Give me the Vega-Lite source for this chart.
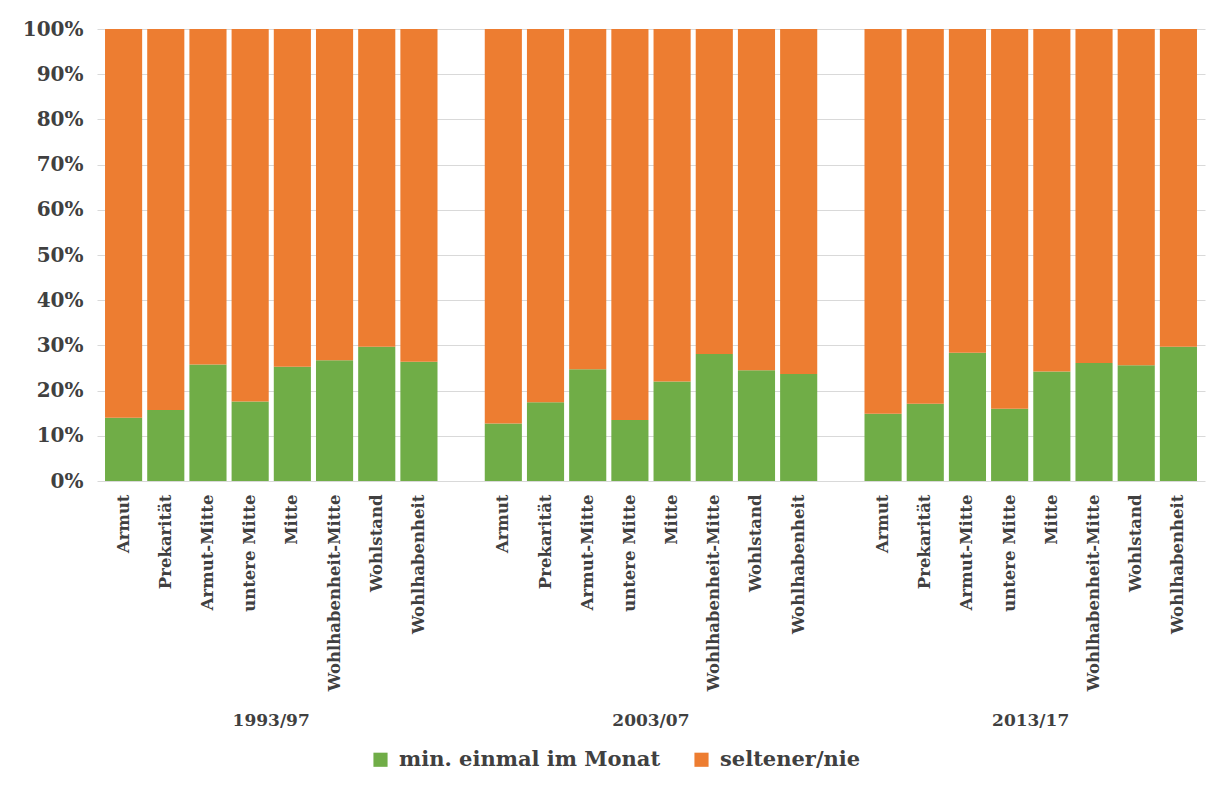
{
  "$schema": "https://vega.github.io/schema/vega-lite/v6.json",
  "autosize": {"type": "none"},
  "width": 1108,
  "height": 452,
  "padding": {"left": 97, "top": 29, "right": 9, "bottom": 305},
  "background": "white",
  "config": {
    "font": "DejaVu Serif",
    "view": {"stroke": null},
    "axis": {"labelFont": "DejaVu Serif", "labelFontWeight": "bold", "labelColor": "#404040", "domain": false, "ticks": false, "titleFontWeight": "bold"}
  },
  "data": {
    "values": [
      {"period": "1993/97", "class": "Armut", "group": "min. einmal im Monat", "value": 0.140},
      {"period": "1993/97", "class": "Prekarität", "group": "min. einmal im Monat", "value": 0.157},
      {"period": "1993/97", "class": "Armut-Mitte", "group": "min. einmal im Monat", "value": 0.258},
      {"period": "1993/97", "class": "untere Mitte", "group": "min. einmal im Monat", "value": 0.176},
      {"period": "1993/97", "class": "Mitte", "group": "min. einmal im Monat", "value": 0.253},
      {"period": "1993/97", "class": "Wohlhabenheit-Mitte", "group": "min. einmal im Monat", "value": 0.267},
      {"period": "1993/97", "class": "Wohlstand", "group": "min. einmal im Monat", "value": 0.297},
      {"period": "1993/97", "class": "Wohlhabenheit", "group": "min. einmal im Monat", "value": 0.264},
      {"period": "2003/07", "class": "Armut", "group": "min. einmal im Monat", "value": 0.127},
      {"period": "2003/07", "class": "Prekarität", "group": "min. einmal im Monat", "value": 0.174},
      {"period": "2003/07", "class": "Armut-Mitte", "group": "min. einmal im Monat", "value": 0.247},
      {"period": "2003/07", "class": "untere Mitte", "group": "min. einmal im Monat", "value": 0.135},
      {"period": "2003/07", "class": "Mitte", "group": "min. einmal im Monat", "value": 0.220},
      {"period": "2003/07", "class": "Wohlhabenheit-Mitte", "group": "min. einmal im Monat", "value": 0.281},
      {"period": "2003/07", "class": "Wohlstand", "group": "min. einmal im Monat", "value": 0.245},
      {"period": "2003/07", "class": "Wohlhabenheit", "group": "min. einmal im Monat", "value": 0.237},
      {"period": "2013/17", "class": "Armut", "group": "min. einmal im Monat", "value": 0.149},
      {"period": "2013/17", "class": "Prekarität", "group": "min. einmal im Monat", "value": 0.171},
      {"period": "2013/17", "class": "Armut-Mitte", "group": "min. einmal im Monat", "value": 0.284},
      {"period": "2013/17", "class": "untere Mitte", "group": "min. einmal im Monat", "value": 0.160},
      {"period": "2013/17", "class": "Mitte", "group": "min. einmal im Monat", "value": 0.242},
      {"period": "2013/17", "class": "Wohlhabenheit-Mitte", "group": "min. einmal im Monat", "value": 0.261},
      {"period": "2013/17", "class": "Wohlstand", "group": "min. einmal im Monat", "value": 0.256},
      {"period": "2013/17", "class": "Wohlhabenheit", "group": "min. einmal im Monat", "value": 0.297},
      {"period": "1993/97", "class": "Armut", "group": "seltener/nie", "value": 0.860},
      {"period": "1993/97", "class": "Prekarität", "group": "seltener/nie", "value": 0.843},
      {"period": "1993/97", "class": "Armut-Mitte", "group": "seltener/nie", "value": 0.742},
      {"period": "1993/97", "class": "untere Mitte", "group": "seltener/nie", "value": 0.824},
      {"period": "1993/97", "class": "Mitte", "group": "seltener/nie", "value": 0.747},
      {"period": "1993/97", "class": "Wohlhabenheit-Mitte", "group": "seltener/nie", "value": 0.733},
      {"period": "1993/97", "class": "Wohlstand", "group": "seltener/nie", "value": 0.703},
      {"period": "1993/97", "class": "Wohlhabenheit", "group": "seltener/nie", "value": 0.736},
      {"period": "2003/07", "class": "Armut", "group": "seltener/nie", "value": 0.873},
      {"period": "2003/07", "class": "Prekarität", "group": "seltener/nie", "value": 0.826},
      {"period": "2003/07", "class": "Armut-Mitte", "group": "seltener/nie", "value": 0.753},
      {"period": "2003/07", "class": "untere Mitte", "group": "seltener/nie", "value": 0.865},
      {"period": "2003/07", "class": "Mitte", "group": "seltener/nie", "value": 0.780},
      {"period": "2003/07", "class": "Wohlhabenheit-Mitte", "group": "seltener/nie", "value": 0.719},
      {"period": "2003/07", "class": "Wohlstand", "group": "seltener/nie", "value": 0.755},
      {"period": "2003/07", "class": "Wohlhabenheit", "group": "seltener/nie", "value": 0.763},
      {"period": "2013/17", "class": "Armut", "group": "seltener/nie", "value": 0.851},
      {"period": "2013/17", "class": "Prekarität", "group": "seltener/nie", "value": 0.829},
      {"period": "2013/17", "class": "Armut-Mitte", "group": "seltener/nie", "value": 0.716},
      {"period": "2013/17", "class": "untere Mitte", "group": "seltener/nie", "value": 0.840},
      {"period": "2013/17", "class": "Mitte", "group": "seltener/nie", "value": 0.758},
      {"period": "2013/17", "class": "Wohlhabenheit-Mitte", "group": "seltener/nie", "value": 0.739},
      {"period": "2013/17", "class": "Wohlstand", "group": "seltener/nie", "value": 0.744},
      {"period": "2013/17", "class": "Wohlhabenheit", "group": "seltener/nie", "value": 0.703}
    ]
  },
  "transform": [{"calculate": "datum.period + '|' + datum['class']", "as": "key"}],
  "resolve": {"axis": {"x": "independent"}},
  "layer": [
    {
      "mark": {"type": "bar"},
      "encoding": {
        "x": {
          "field": "key", "type": "nominal", "title": null,
          "scale": {
            "domain": [
              "1993/97|Armut", "1993/97|Prekarität", "1993/97|Armut-Mitte", "1993/97|untere Mitte", "1993/97|Mitte", "1993/97|Wohlhabenheit-Mitte", "1993/97|Wohlstand", "1993/97|Wohlhabenheit",
              "gap1|",
              "2003/07|Armut", "2003/07|Prekarität", "2003/07|Armut-Mitte", "2003/07|untere Mitte", "2003/07|Mitte", "2003/07|Wohlhabenheit-Mitte", "2003/07|Wohlstand", "2003/07|Wohlhabenheit",
              "gap2|",
              "2013/17|Armut", "2013/17|Prekarität", "2013/17|Armut-Mitte", "2013/17|untere Mitte", "2013/17|Mitte", "2013/17|Wohlhabenheit-Mitte", "2013/17|Wohlstand", "2013/17|Wohlhabenheit"
            ],
            "paddingInner": 0.12,
            "paddingOuter": 0.19
          },
          "axis": {
            "orient": "bottom",
            "labelExpr": "split(datum.value, '|')[1]",
            "labelAngle": -90,
            "labelAlign": "right",
            "labelBaseline": "middle",
            "labelFontSize": 16.5,
            "labelPadding": 13,
            "labelLimit": 400,
            "grid": false
          }
        },
        "y": {
          "field": "value", "type": "quantitative", "stack": "zero", "title": null,
          "scale": {"domain": [0, 1], "nice": false},
          "axis": {
            "values": [0, 0.1, 0.2, 0.3, 0.4, 0.5, 0.6, 0.7, 0.8, 0.9, 1],
            "format": ".0%",
            "labelFontSize": 20,
            "labelPadding": 14,
            "grid": true,
            "gridColor": "#d9d9d9",
            "gridWidth": 1
          }
        },
        "color": {
          "field": "group", "type": "nominal",
          "scale": {"domain": ["min. einmal im Monat", "seltener/nie"], "range": ["#70ad47", "#ed7d31"]},
          "legend": {
            "title": null,
            "orient": "none",
            "direction": "horizontal",
            "legendX": 273,
            "legendY": 720,
            "symbolType": "square",
            "symbolSize": 200,
            "symbolStrokeWidth": 0,
            "labelFont": "DejaVu Serif",
            "labelFontSize": 21,
            "labelFontWeight": "bold",
            "labelColor": "#404040",
            "labelLimit": 400,
            "columnPadding": 30,
            "labelOffset": 8
          }
        },
        "order": {"field": "group", "sort": "ascending"}
      }
    },
    {
      "mark": {"type": "tick", "opacity": 0},
      "encoding": {
        "x": {
          "field": "key", "type": "nominal", "title": null,
          "axis": {
            "orient": "bottom",
            "values": ["1993/97|untere Mitte", "2003/07|untere Mitte", "2013/17|untere Mitte"],
            "labelExpr": "split(datum.value, '|')[0]",
            "labelAngle": 0,
            "labelAlign": "center",
            "labelBaseline": "top",
            "labelFontSize": 17,
            "labelOffset": 21,
            "labelPadding": 0,
            "offset": 231,
            "grid": false
          }
        }
      }
    }
  ]
}
